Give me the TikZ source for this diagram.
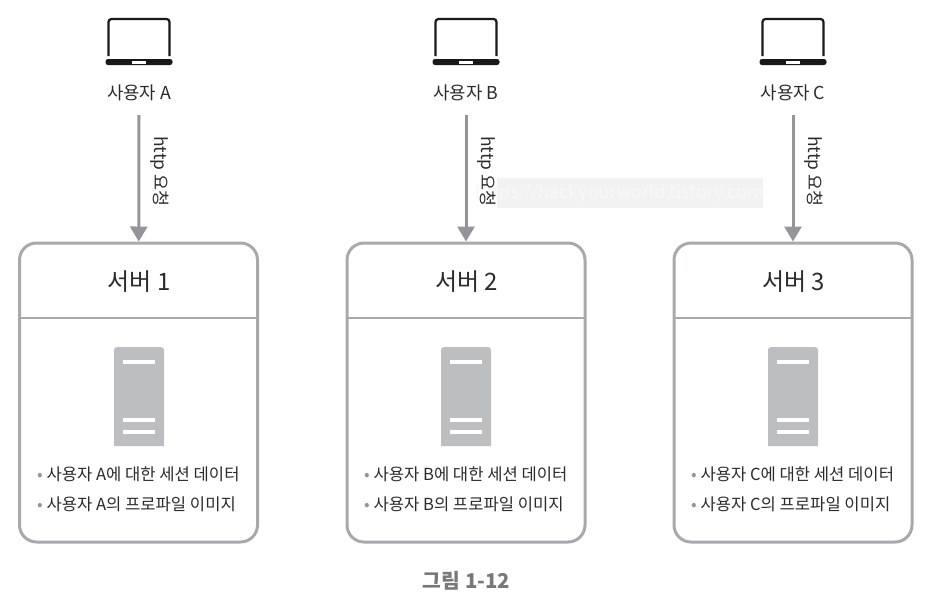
\documentclass[tikz,border=0pt]{standalone}
\usepackage{fontspec}
\setmainfont{Noto Sans CJK KR}
\usetikzlibrary{arrows.meta}
\definecolor{linegray}{HTML}{A7A9AC}
\definecolor{arrowgray}{HTML}{939598}
\definecolor{towergray}{HTML}{BCBEC0}
\definecolor{inkgray}{HTML}{2B2B2B}
\definecolor{capgray}{HTML}{77787B}
\definecolor{markgray}{HTML}{F2F2F2}
\definecolor{marktext}{HTML}{F8F8F8}

\begin{document}
\begin{tikzpicture}[
    x=1pt, y=-1pt,
    user/.style={minimum width=80pt, minimum height=45pt, inner sep=0pt, outer sep=0pt, text=inkgray, font=\fontsize{17.8}{21}\selectfont},
    serverbox/.style={draw=linegray, line width=3pt, rounded corners=17pt, minimum width=238pt, minimum height=299pt, inner sep=0pt, outer sep=0pt},
    servertitle/.style={minimum height=72pt, inner sep=0pt, outer sep=0pt, text=inkgray, font=\fontsize{24}{28}\selectfont},
    divider/.style={draw=linegray, line width=2pt},
    item/.style={anchor=west, inner sep=0pt, text=inkgray, font=\fontsize{16.6}{20}\selectfont},
    request/.style={arrowgray, line width=3pt, -{Triangle[width=17pt,length=15pt]}, shorten >=1.5pt},
    reqlabel/.style={rotate=-90, anchor=south, inner sep=10pt, text=inkgray, font=\fontsize{17.4}{21}\selectfont},
    laptop/.pic={
        \draw[black!90, line width=2.2pt, rounded corners=3pt] (-30.5,37) -- (-30.5,0) -- (30.5,0) -- (30.5,37);
        \fill[black!90, rounded corners=2.5pt] (-33.5,40) rectangle (33.5,46);
        \fill[white] (-7,42) rectangle (7,44.5);
    },
    tower/.pic={
        \fill[towergray] (-25,99) {[rounded corners=3pt] -- (-25,0) -- (25,0)} -- (25,99) -- cycle;
        \fill[white] (-16,13) rectangle (16,17);
        \fill[white] (-16,71) rectangle (16,75);
        \fill[white] (-16,83) rectangle (16,87);
    }
]
    \useasboundingbox (0,0) rectangle (944,600);

    % watermark strip behind the middle label
    \node[fill=markgray, minimum width=266pt, minimum height=30pt, inner sep=0pt] (strip) at (630,193) {};
    \node[text=marktext, inner sep=0pt, font=\fontsize{18}{22}\selectfont] (mark) at (620,193) {https://hackyourworld.tistory.com};

    % three users, top row
    \pic at (139,19) {laptop};
    \pic at (466,19) {laptop};
    \pic at (793,19) {laptop};
    \node[user] (userA) at (139,92.5) {사용자 A};
    \node[user] (userB) at (466,92.5) {사용자 B};
    \node[user] (userC) at (793,92.5) {사용자 C};

    % three servers
    \node[serverbox] (boxA) at (138.5,392.5) {};
    \node[serverbox] (boxB) at (466,392.5) {};
    \node[serverbox] (boxC) at (793,392.5) {};
    \node[servertitle] (titleA) at (139,282) {서버 1};
    \node[servertitle] (titleB) at (466.5,282) {서버 2};
    \node[servertitle] (titleC) at (793.5,282) {서버 3};
    \draw[divider] (boxA.west |- titleA.south) -- (boxA.east |- titleA.south);
    \draw[divider] (boxB.west |- titleB.south) -- (boxB.east |- titleB.south);
    \draw[divider] (boxC.west |- titleC.south) -- (boxC.east |- titleC.south);
    \pic at (139,347) {tower};
    \pic at (466,347) {tower};
    \pic at (793,347) {tower};

    % session data and profile image
    \node[item] (sessA) at (37,474) {\textcolor{arrowgray}{•} 사용자 A에 대한 세션 데이터};
    \node[item] (profA) at (37,504) {\textcolor{arrowgray}{•} 사용자 A의 프로파일 이미지};
    \node[item] (sessB) at (364,474) {\textcolor{arrowgray}{•} 사용자 B에 대한 세션 데이터};
    \node[item] (profB) at (364,504) {\textcolor{arrowgray}{•} 사용자 B의 프로파일 이미지};
    \node[item] (sessC) at (691,474) {\textcolor{arrowgray}{•} 사용자 C에 대한 세션 데이터};
    \node[item] (profC) at (691,504) {\textcolor{arrowgray}{•} 사용자 C의 프로파일 이미지};

    \path[request]
        (userA) edge node[reqlabel, pos=.44] {http 요청} (boxA)
        (userB) edge node[reqlabel, pos=.44] {http 요청} (boxB)
        (userC) edge node[reqlabel, pos=.44] {http 요청} (boxC);

    \node[text=capgray, font=\fontsize{20.4}{24}\selectfont\bfseries] (caption) at (466.5,581) {그림 1-12};
\end{tikzpicture}
\end{document}
